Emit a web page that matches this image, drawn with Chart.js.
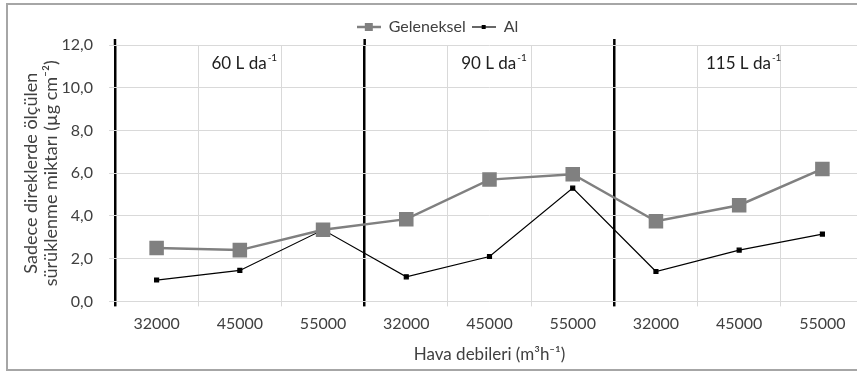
<!DOCTYPE html>
<html>
<head>
<meta charset="utf-8">
<script src="https://cdn.jsdelivr.net/npm/chart.js@4"></script>
<style>
  html, body { margin: 0; padding: 0; background: #fff; overflow: hidden; }
  #frame { position: absolute; left: 6px; top: 3px; width: 900px; height: 364px; border: 2px solid #a6a6a6; }
  #wrap { position: absolute; left: 0; top: 0; width: 875px; height: 374px; }
</style>
</head>
<body>
<div id="frame"></div>
<div id="wrap"><canvas id="chart"></canvas></div>
<script>
// air flow rates, three application doses
const flowLabels = ['32000', '45000', '55000', '32000', '45000', '55000', '32000', '45000', '55000'];
const groupLabels = ['60 L da', '90 L da', '115 L da'];
const groupExp = '-1';

// drift on poles only (ug cm-2)
const geleneksel = [2.5, 2.4, 3.35, 3.85, 5.7, 5.95, 3.75, 4.5, 6.2];
const al = [1.0, 1.45, 3.35, 1.15, 2.1, 5.3, 1.4, 2.4, 3.15];

const yTicks = [0, 2, 4, 6, 8, 10, 12];

const textColor = '#404040';
const fontName = 'Lato, "Open Sans", sans-serif';

function legendIcon(color, lineW, side)
{
    const c = document.createElement('canvas');
    c.width = 24;
    c.height = 12;
    const g = c.getContext('2d');
    g.strokeStyle = color;
    g.lineWidth = lineW;
    g.beginPath();
    g.moveTo(0, 6);
    g.lineTo(24, 6);
    g.stroke();
    g.fillStyle = color;
    g.fillRect(12 - side / 2, 6 - side / 2, side, side);
    return c;
}

const iconGel = legendIcon('#808080', 2.5, 8);
const iconAl = legendIcon('#000000', 1.2, 4);

// dose labels above each group of three flow rates, plus the separators poking above the grid
const groupTitles = {
    id: 'groupTitles',
    afterDatasetsDraw(chart)
    {
        const x = chart.scales.x;
        const ctx = chart.ctx;
        const top = chart.chartArea.top;
        const y = top + 19;
        ctx.save();
        ctx.strokeStyle = '#000000';
        ctx.lineWidth = 2.5;
        for (let i = 0; i < 3; i++) {
            const bx = x.getPixelForValue(i * 3 - 0.5);
            ctx.beginPath();
            ctx.moveTo(bx, top - 6);
            ctx.lineTo(bx, top);
            ctx.stroke();
        }
        ctx.fillStyle = '#202020';
        ctx.textBaseline = 'middle';
        groupLabels.forEach((label, i) => {
            const cx = x.getPixelForValue(i * 3 + 1);
            ctx.font = '17px ' + fontName;
            const w1 = ctx.measureText(label).width;
            ctx.font = '10px ' + fontName;
            const w2 = ctx.measureText(groupExp).width;
            const start = cx - (w1 + w2) / 2 + 4;
            ctx.font = '17px ' + fontName;
            ctx.textAlign = 'left';
            ctx.fillText(label, start, y);
            ctx.font = '10px ' + fontName;
            ctx.fillText(groupExp, start + w1 + 1, y - 6);
        });
        ctx.restore();
    }
};

new Chart(document.getElementById('chart'), {
    type: 'line',
    data: {
        labels: flowLabels,
        datasets: [
            {
                label: 'Geleneksel',
                data: geleneksel,
                borderColor: '#808080',
                backgroundColor: '#808080',
                borderWidth: 2.5,
                pointStyle: 'rect',
                pointRadius: 8.5,
                pointHoverRadius: 8.5,
                tension: 0
            },
            {
                label: 'Al',
                data: al,
                borderColor: '#000000',
                backgroundColor: '#000000',
                borderWidth: 1.2,
                pointStyle: 'rect',
                pointRadius: 2.8,
                pointHoverRadius: 2.8,
                tension: 0
            }
        ]
    },
    options: {
        responsive: true,
        maintainAspectRatio: false,
        animation: false,
        layout: { padding: { top: 13, bottom: 9, left: 0, right: 0 } },
        plugins: {
            legend: {
                position: 'top',
                labels: {
                    usePointStyle: true,
                    pointStyleWidth: 24,
                    boxHeight: 12,
                    padding: 6,
                    color: textColor,
                    font: { family: fontName, size: 16 },
                    generateLabels(chart)
                    {
                        return chart.data.datasets.map((ds, i) => ({
                            text: ds.label,
                            pointStyle: i === 0 ? iconGel : iconAl,
                            fontColor: textColor,
                            lineWidth: 0,
                            strokeStyle: 'rgba(0,0,0,0)',
                            fillStyle: 'rgba(0,0,0,0)',
                            datasetIndex: i,
                            hidden: false
                        }));
                    }
                }
            },
            tooltip: { enabled: false }
        },
        scales: {
            x: {
                offset: true,
                border: { display: false },
                grid: {
                    offset: true,
                    tickLength: 5,
                    color: ctx => (ctx.index % 3 === 0 ? '#000000' : '#d9d9d9'),
                    lineWidth: ctx => (ctx.index % 3 === 0 ? 2.5 : 1)
                },
                ticks: {
                    color: textColor,
                    padding: 8,
                    font: { family: fontName, size: 16 },
                    maxRotation: 0,
                    autoSkip: false
                },
                title: {
                    display: true,
                    text: 'Hava debileri (m³h⁻¹)',
                    color: textColor,
                    padding: { top: 3, bottom: 0 },
                    font: { family: fontName, size: 17 }
                }
            },
            y: {
                min: 0,
                max: 12,
                border: { display: false },
                afterFit(scale) { scale.width = 115; },
                afterBuildTicks(scale) { scale.ticks = yTicks.map(v => ({ value: v })); },
                grid: {
                    color: '#d9d9d9',
                    tickLength: 6
                },
                ticks: {
                    color: textColor,
                    padding: 16,
                    font: { family: fontName, size: 16 },
                    callback: v => v.toFixed(1).replace('.', ',')
                },
                title: {
                    display: true,
                    text: ['Sadece direklerde ölçülen', 'sürüklenme miktarı (µg cm⁻²)'],
                    color: textColor,
                    padding: { top: 21, bottom: 0 },
                    font: { family: fontName, size: 18, lineHeight: 1.1 }
                }
            }
        }
    },
    plugins: [groupTitles]
});
</script>
</body>
</html>
